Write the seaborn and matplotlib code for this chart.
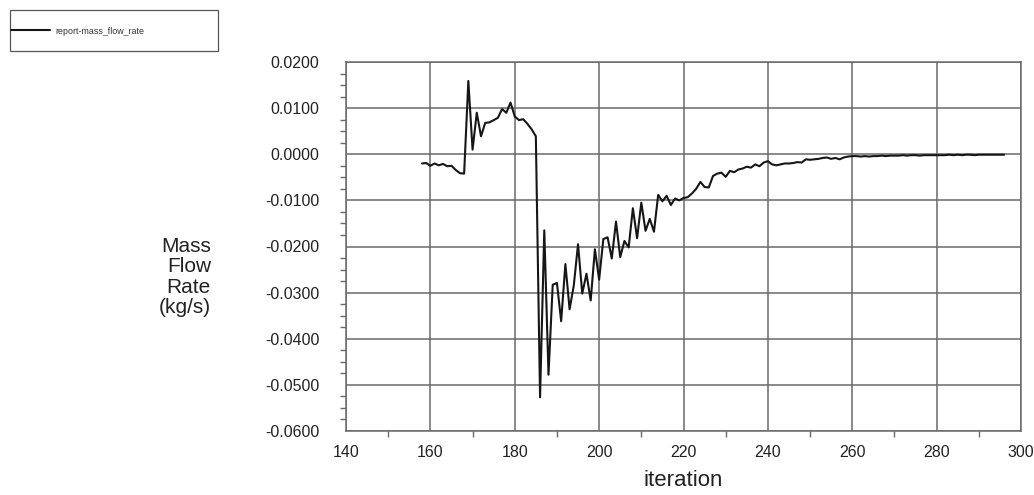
import numpy as np
import pandas as pd
import matplotlib
matplotlib.use("Agg")
import matplotlib.pyplot as plt
from matplotlib.patches import Rectangle
from matplotlib.ticker import MultipleLocator, FormatStrFormatter
import seaborn as sns

# ---------------- data ----------------
series_name = "report-mass_flow_rate"
first_iteration = 158
mass_flow_rate = [
    # 158-167
    -0.0020, -0.0019, -0.0025, -0.0020, -0.0024, -0.0021, -0.0026, -0.0025, -0.0034, -0.0041,
    # 168-177
    -0.0042, 0.0159, 0.0010, 0.0090, 0.0039, 0.0068, 0.0069, 0.0074, 0.0079, 0.0098,
    # 178-187
    0.0090, 0.0112, 0.0082, 0.0074, 0.0076, 0.0066, 0.0054, 0.0039, -0.0527, -0.0165,
    # 188-197
    -0.0478, -0.0283, -0.0279, -0.0362, -0.0238, -0.0336, -0.0284, -0.0195, -0.0302, -0.0259,
    # 198-207
    -0.0317, -0.0206, -0.0272, -0.0184, -0.0180, -0.0226, -0.0146, -0.0223, -0.0188, -0.0202,
    # 208-217
    -0.0117, -0.0182, -0.0105, -0.0166, -0.0140, -0.0168, -0.0088, -0.0102, -0.0090, -0.0110,
    # 218-227
    -0.0096, -0.0100, -0.0095, -0.0093, -0.0085, -0.0075, -0.0060, -0.0071, -0.0072, -0.0047,
    # 228-237
    -0.0042, -0.0040, -0.0049, -0.0036, -0.0039, -0.0033, -0.0031, -0.0027, -0.0029, -0.0022,
    # 238-247
    -0.0026, -0.0018, -0.0015, -0.0022, -0.0024, -0.0022, -0.0020, -0.0020, -0.0019, -0.0017,
    # 248-257
    -0.0018, -0.0011, -0.0012, -0.0011, -0.0010, -0.0008, -0.0007, -0.0010, -0.0008, -0.0011,
    # 258-267
    -0.0007, -0.0005, -0.0004, -0.0004, -0.0005, -0.0004, -0.0005, -0.0004, -0.0004, -0.0003,
    # 268-277
    -0.0004, -0.0003, -0.0003, -0.0003, -0.0002, -0.0003, -0.0002, -0.0002, -0.0003, -0.0002,
    # 278-287
    -0.0002, -0.0002, -0.0002, -0.0002, -0.0002, -0.0001, -0.0002, -0.0001, -0.0002, -0.0001,
    # 288-296
    -0.0001, -0.0002, -0.0001, -0.0001, -0.0001, -0.0001, -0.0001, -0.0001, -0.0001,
]
iterations = list(range(first_iteration, first_iteration + len(mass_flow_rate)))

x_ticks = [140, 160, 180, 200, 220, 240, 260, 280, 300]
y_ticks = [-0.06, -0.05, -0.04, -0.03, -0.02, -0.01, 0.0, 0.01, 0.02]
x_label = "iteration"
y_label = "Mass\nFlow\nRate\n(kg/s)"

df = pd.DataFrame({"iteration": iterations, "value": mass_flow_rate})

# ---------------- style ----------------
sns.set_style("white")
plt.rcParams["font.family"] = ["Liberation Sans", "DejaVu Sans"]

W, H = 1034, 495
fig = plt.figure(figsize=(W / 100, H / 100), dpi=100)
L, R, T, B = 346, 1021, 62, 431
ax = fig.add_axes([L / W, 1 - B / H, (R - L) / W, (B - T) / H])

grid_c = "#6a6a6a"
sns.lineplot(data=df, x="iteration", y="value", ax=ax, color="#161616",
             linewidth=1.5, label=series_name, legend=False)

ax.set_xlim(140, 300)
ax.set_ylim(-0.06, 0.02)
ax.set_xticks(x_ticks)
ax.set_yticks(y_ticks)
ax.yaxis.set_major_formatter(FormatStrFormatter("%.4f"))
ax.xaxis.set_minor_locator(MultipleLocator(10))
ax.yaxis.set_minor_locator(MultipleLocator(0.0025))
ax.grid(True, which="major", color=grid_c, linewidth=1.1)
ax.set_axisbelow(True)
for s in ax.spines.values():
    s.set_color(grid_c)
    s.set_linewidth(1.1)

ax.tick_params(axis="y", which="major", direction="out", length=11, width=1.1,
               color=grid_c, labelsize=11.5, pad=8, labelcolor="#222222")
ax.tick_params(axis="y", which="minor", direction="out", length=4, width=1.0,
               color=grid_c, left=True)
ax.tick_params(axis="x", which="major", direction="out", length=4, width=1.1,
               color=grid_c, labelsize=11.5, pad=6, labelcolor="#222222")
ax.tick_params(axis="x", which="minor", direction="out", length=4, width=1.0,
               color=grid_c, bottom=True)

ax.set_xlabel("")
ax.set_ylabel("")
fig.text(683 / W, 1 - 480 / H, x_label, ha="center", va="center",
         fontsize=16, color="#222222")
fig.text(211 / W, 1 - 277 / H, y_label, ha="right", va="center",
         fontsize=15, color="#222222", linespacing=1.09, multialignment="right")

# legend box
fig.patches.append(Rectangle((10 / W, 1 - 51 / H), 208 / W, 41 / H,
                             transform=fig.transFigure, fill=False,
                             edgecolor="#555555", linewidth=0.9))
handles, labels = ax.get_legend_handles_labels()
fig.legend(handles, labels, loc="center left", bbox_to_anchor=(11 / W, 1 - 31 / H),
           frameon=False, fontsize=6.4, handlelength=4.4, handletextpad=0.56,
           borderpad=0, borderaxespad=0, labelcolor="#333333")

fig.savefig("out.png", dpi=100, facecolor="white")
